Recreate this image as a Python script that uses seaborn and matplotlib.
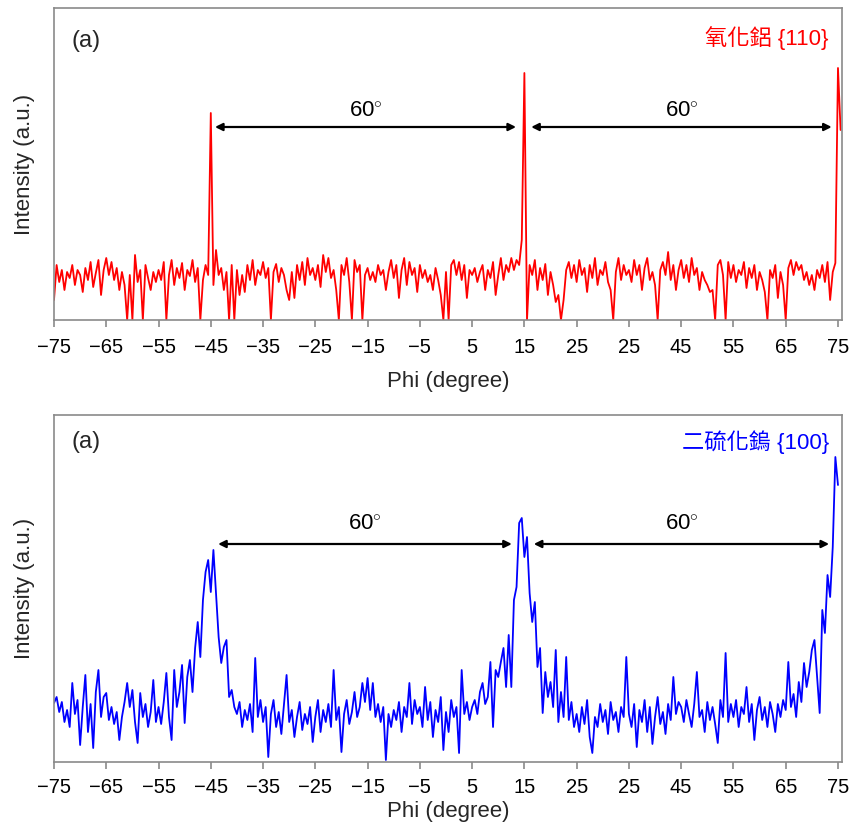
import numpy as np
import pandas as pd
import matplotlib
matplotlib.use("Agg")
import matplotlib.pyplot as plt
import seaborn as sns

# ---------------- data ----------------
PHI_START = -75.0
PHI_STEP = 0.5

# Al2O3 {110} phi scan (top, red), one value every 0.5 degree from -75
top_intensity = [
    20, 55, 38, 50, 30, 48, 42, 55, 35, 50, 45, 28, 52, 40, 58, 33, 47, 60, 25, 50,
    62, 45, 58, 40, 52, 30, 48, 35, 0, 45, 0, 65, 38, 50, 0, 55, 42, 30, 48, 38,
    50, 40, 58, 0, 45, 60, 35, 52, 42, 57, 30, 50, 44, 60, 38, 52, 0, 40, 55, 45,
    207, 35, 70, 45, 52, 30, 48, 0, 55, 0, 50, 25, 45, 28, 55, 40, 60, 35, 50, 45,
    58, 42, 52, 0, 48, 56, 38, 52, 45, 30, 20, 48, 22, 55, 40, 58, 35, 62, 45, 52,
    40, 55, 33, 65, 48, 62, 42, 50, 30, 0, 55, 45, 62, 38, 0, 60, 48, 55, 0, 45,
    52, 40, 48, 38, 55, 45, 50, 30, 48, 60, 42, 55, 22, 50, 62, 35, 58, 45, 52, 28,
    55, 42, 50, 38, 45, 30, 52, 40, 25, 0, 48, 0, 55, 60, 45, 58, 40, 55, 22, 50,
    45, 52, 38, 48, 55, 30, 50, 42, 58, 25, 45, 62, 40, 55, 48, 62, 50, 60, 55, 80,
    247, 0, 55, 45, 60, 30, 52, 40, 56, 25, 48, 35, 18, 25, 0, 20, 50, 58, 42, 55,
    38, 60, 45, 52, 28, 55, 42, 62, 35, 50, 45, 58, 38, 30, 0, 48, 62, 40, 55, 45,
    50, 38, 60, 45, 55, 30, 52, 62, 40, 48, 35, 0, 50, 58, 45, 68, 40, 55, 30, 50,
    60, 42, 55, 38, 62, 45, 52, 30, 48, 40, 35, 28, 30, 0, 55, 60, 45, 0, 58, 42,
    55, 38, 50, 45, 58, 32, 52, 42, 55, 30, 48, 40, 28, 0, 50, 42, 55, 22, 48, 35,
    0, 52, 60, 45, 58, 50, 55, 40, 48, 35, 45, 30, 50, 42, 55, 38, 58, 20, 48, 57,
    252, 190,
]

# WS2 {100} phi scan (bottom, blue), one value every 0.5 degree from -75
bottom_intensity = [
    59, 65, 50, 60, 40, 52, 35, 79, 48, 62, 17, 55, 87, 30, 58, 14, 70, 92, 45, 65,
    69, 42, 55, 38, 50, 22, 45, 60, 79, 55, 72, 40, 19, 69, 45, 58, 35, 50, 82, 40,
    55, 38, 60, 89, 45, 22, 92, 55, 70, 97, 39, 85, 102, 70, 114, 140, 105, 162, 190, 202,
    170, 212, 169, 125, 99, 115, 122, 65, 72, 55, 48, 60, 35, 52, 42, 58, 30, 104, 45, 62,
    40, 55, 5, 48, 62, 35, 50, 28, 58, 87, 40, 52, 25, 45, 60, 32, 48, 38, 55, 20,
    45, 62, 30, 52, 40, 58, 35, 92, 42, 55, 10, 48, 62, 38, 50, 70, 45, 55, 79, 60,
    84, 52, 79, 45, 58, 40, 55, 2, 48, 35, 52, 42, 60, 30, 55, 45, 79, 38, 62, 48,
    55, 35, 75, 42, 60, 25, 52, 40, 65, 12, 50, 30, 62, 45, 55, 9, 92, 48, 60, 42,
    55, 62, 48, 70, 79, 58, 65, 100, 35, 92, 85, 100, 114, 75, 127, 75, 162, 175, 239, 244,
    205, 225, 169, 140, 160, 95, 114, 49, 90, 65, 80, 55, 112, 40, 70, 45, 105, 42, 60, 35,
    48, 30, 55, 38, 62, 25, 9, 45, 35, 58, 40, 52, 28, 60, 42, 50, 30, 55, 45, 105,
    48, 35, 58, 15, 52, 40, 62, 30, 55, 18, 45, 65, 38, 50, 28, 58, 42, 85, 48, 60,
    55, 40, 62, 48, 35, 58, 90, 45, 52, 30, 60, 42, 55, 38, 19, 62, 45, 109, 40, 58,
    45, 62, 35, 55, 48, 75, 40, 58, 22, 52, 65, 42, 55, 35, 60, 48, 30, 58, 45, 62,
    52, 100, 55, 68, 45, 80, 60, 99, 75, 90, 112, 122, 85, 49, 152, 129, 187, 165, 215, 305,
    277,
]

tick_values = [-75, -65, -55, -45, -35, -25, -15, -5, 5, 15, 25, 35, 45, 55, 65, 75]
tick_labels = ["\u221275", "\u221265", "\u221255", "\u221245", "\u221235", "\u221225",
               "\u221215", "\u22125", "5", "15", "25", "25", "45", "55", "65", "75"]

top_label = "氧化鋁 {110}"
bottom_label = "二硫化鎢 {100}"
panel_tag = "(a)"
angle_text = "60$^{\\circ}$"

# arrow spans (phi) and heights (intensity) for the 60 degree annotations
top_arrows = [(-44.2, 13.4), (16.3, 73.8)]
top_arrow_y = 193
top_text_y = 203
bottom_arrows = [(-43.6, 12.6), (16.8, 73.3)]
bottom_arrow_y = 218
bottom_text_y = 232

# ---------------- style ----------------
sns.set_style("ticks")
plt.rcParams["font.family"] = ["Liberation Sans", "Noto Sans CJK TC", "DejaVu Sans"]
plt.rcParams["mathtext.fontset"] = "custom"
plt.rcParams["mathtext.rm"] = "Liberation Sans"

fig = plt.figure(figsize=(8.52, 8.32), dpi=100)
ax_top = fig.add_axes([54 / 852, 1 - 320 / 832, 788 / 852, 312 / 832])
ax_bot = fig.add_axes([54 / 852, 1 - 762 / 832, 788 / 852, 347 / 832])


def make_df(vals):
    phi = PHI_START + PHI_STEP * np.arange(len(vals))
    return pd.DataFrame({"phi": phi, "intensity": vals})


def style_axis(ax, ymax, tick_pad, xlabel_pad):
    ax.set_xlim(-75, 75.77)
    ax.set_ylim(0, ymax)
    ax.set_yticks([])
    ax.set_xticks(tick_values)
    ax.set_xticklabels(tick_labels, fontsize=14.5)
    ax.tick_params(axis="x", direction="out", length=5, width=1.2,
                   color="#8a8a8a", pad=tick_pad, labelcolor="black")
    for sp in ax.spines.values():
        sp.set_visible(True)
        sp.set_color("#8a8a8a")
        sp.set_linewidth(1.2)
    ax.set_xlabel("Phi (degree)", fontsize=16, labelpad=xlabel_pad)
    ax.set_ylabel("Intensity (a.u.)", fontsize=16, labelpad=14)


def add_arrows(ax, spans, y, ty):
    for a, b in spans:
        ax.annotate("", xy=(b, y), xytext=(a, y),
                    arrowprops=dict(arrowstyle="<|-|>", color="black", lw=1.6,
                                    mutation_scale=11, shrinkA=0, shrinkB=0))
        ax.text((a + b) / 2, ty, angle_text, ha="center", va="baseline",
                fontsize=16, color="black")


df_top = make_df(top_intensity)
df_bot = make_df(bottom_intensity)

sns.lineplot(data=df_top, x="phi", y="intensity", ax=ax_top, color="#ff0000",
             linewidth=1.3)
sns.lineplot(data=df_bot, x="phi", y="intensity", ax=ax_bot, color="#0000ff",
             linewidth=1.3)

style_axis(ax_top, 312, 8, 10)
style_axis(ax_bot, 347, 6.5, 3)

add_arrows(ax_top, top_arrows, top_arrow_y, top_text_y)
add_arrows(ax_bot, bottom_arrows, bottom_arrow_y, bottom_text_y)

ax_top.text(0.0216, 0.894, panel_tag, transform=ax_top.transAxes, fontsize=17,
            ha="left", va="center")
ax_top.text(0.9835, 0.904, top_label, transform=ax_top.transAxes, fontsize=16,
            ha="right", va="center", color="#ff0000")
ax_bot.text(0.0216, 0.922, panel_tag, transform=ax_bot.transAxes, fontsize=17,
            ha="left", va="center")
ax_bot.text(0.9835, 0.922, bottom_label, transform=ax_bot.transAxes, fontsize=16,
            ha="right", va="center", color="#0000ff")

fig.savefig("out.png", dpi=100)
